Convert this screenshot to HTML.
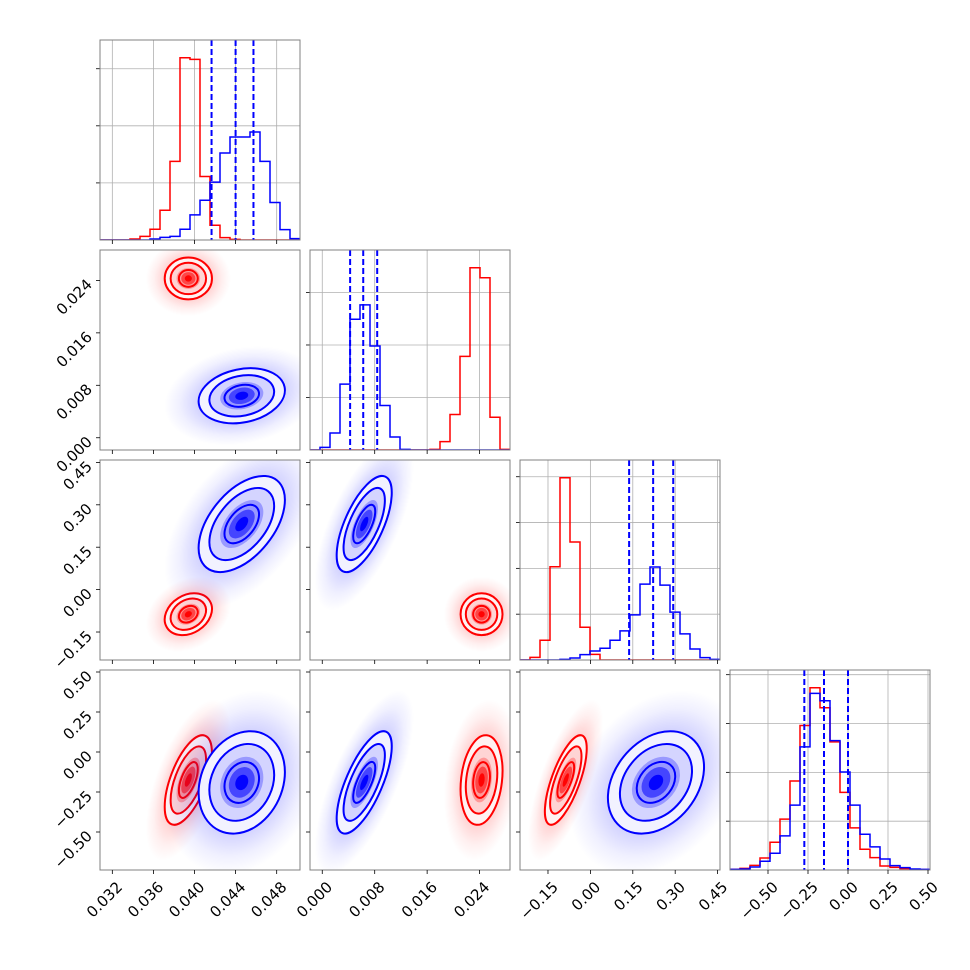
<!DOCTYPE html>
<html><head><meta charset="utf-8"><style>
html,body{margin:0;padding:0;background:#fff}
svg{display:block;font-family:"DejaVu Sans","Liberation Sans",sans-serif}
</style></head><body>
<svg id="chart" width="970" height="970" viewBox="0 0 970 970" xmlns="http://www.w3.org/2000/svg"></svg>
<script>
// ---- data ----
const paramRanges = [[0.0308,0.05027],[-0.00187,0.02864],[-0.249,0.4585],[-0.7375,0.5125]];
const tickVals0 = [0.032,0.036,0.040,0.044,0.048];
const tickVals1 = [0.000,0.008,0.016,0.024];
const tickVals2 = [-0.15,0.00,0.15,0.30,0.45];
const tickVals3 = [-0.50,-0.25,0.00,0.25,0.50];
const tickLabels0 = ["0.032","0.036","0.040","0.044","0.048"];
const tickLabels1 = ["0.000","0.008","0.016","0.024"];
const tickLabels2 = ["\u22120.15","0.00","0.15","0.30","0.45"];
const tickLabels3 = ["\u22120.50","\u22120.25","0.00","0.25","0.50"];
// histogram counts (20 bins each)
const histRed0  = [0,0,0,3,11,32,89,235,545,540,190,44,7,2,0,0,0,0,0,0];
const histBlue0 = [0,0,0,0,0,3,8,11,32,75,119,173,260,308,308,323,235,112,31,4];
const histRed1  = [0,0,0,0,0,0,0,0,0,0,0,0,2,25,106,280,545,515,98,2];
const histBlue1 = [0,8,51,197,391,434,311,133,39,2,0,0,0,0,0,0,0,0,0,0];
const histRed2  = [0,8,59,279,545,353,98,17,0,0,0,0,0,0,0,0,0,0,0,0];
const histBlue2 = [0,0,0,0,2,6,16,27,35,59,87,135,227,278,224,143,78,33,7,2];
const histRed3  = [2,5,14,36,83,152,266,432,545,485,383,232,126,62,37,12,8,4,2,1];
const histBlue3 = [2,3,9,26,50,102,194,368,528,506,387,293,194,107,69,33,13,7,3,2];
const histMax = [598,598,598,598];
const histTickStep = [170.7,157,137,146];
const quantiles0 = [0.04166,0.04400,0.04574];
const quantiles1 = [0.00425,0.00625,0.00838];
const quantiles2 = [0.137,0.222,0.293];
const quantiles3 = [-0.273,-0.150,0.000];
// 2D gaussian summaries
const redMean  = [0.0394,0.0243,-0.087,-0.175];
const redSd    = [0.00115,0.0016,0.037,0.14];
const blueMean = [0.0446,0.0064,0.232,-0.19];
const blueSd   = [0.0021,0.0021,0.085,0.16];
// correlation rows: [r10, r20, r21, r30, r31, r32]
const redRho  = [0.0,0.25,0.0,0.6,0.2,0.7];
const blueRho = [0.2,0.5,0.65,0.2,0.7,0.3];

const tickVals=[tickVals0,tickVals1,tickVals2,tickVals3];
const tickLabels=[tickLabels0,tickLabels1,tickLabels2,tickLabels3];
const histRed=[histRed0,histRed1,histRed2,histRed3];
const histBlue=[histBlue0,histBlue1,histBlue2,histBlue3];
const quant=[quantiles0,quantiles1,quantiles2,quantiles3];

const NS="http://www.w3.org/2000/svg";
const svg=document.getElementById('chart');
const L0=100,T0=40,S=200,G=10;
function mk(tag,attrs,parent){const e=document.createElementNS(NS,tag);for(const k in attrs)e.setAttribute(k,attrs[k]);(parent||svg).appendChild(e);return e;}
function px(p,v,col){const r=paramRanges[p];return L0+col*(S+G)+(v-r[0])/(r[1]-r[0])*S;}
function py(p,v,row){const r=paramRanges[p];return T0+row*(S+G)+S-(v-r[0])/(r[1]-r[0])*S;}
function kpx(p){const r=paramRanges[p];return S/(r[1]-r[0]);}

const defs=mk('defs',{});
['red','blue'].forEach(c=>{
  const g=mk('radialGradient',{id:'cloud-'+c},defs);
  const col=c==='red'?'#ff0000':'#0000ff';
  mk('stop',{offset:'0%','stop-color':col,'stop-opacity':0.4},g);
  mk('stop',{offset:'50%','stop-color':col,'stop-opacity':0.2},g);
  mk('stop',{offset:'80%','stop-color':col,'stop-opacity':0.06},g);
  mk('stop',{offset:'100%','stop-color':col,'stop-opacity':0},g);
});

function rhoIdx(i,j){const m={"1,0":0,"2,0":1,"2,1":2,"3,0":3,"3,1":4,"3,2":5};return m[i+","+j];}

for(let i=0;i<4;i++){
  for(let j=0;j<=i;j++){
    const x0=L0+j*(S+G), y0=T0+i*(S+G);
    const panel=mk('g',{});
    
    
    const cid='clip'+i+'_'+j;
    const cp=mk('clipPath',{id:cid},defs);mk('rect',{x:x0,y:y0,width:S,height:S},cp);
    const inner=mk('g',{'clip-path':'url(#'+cid+')'},panel);
    if(i===j){
      const p=i;
      tickVals[p].forEach(v=>{const x=px(p,v,j);const l=mk('line',{x1:x,x2:x,y1:y0,y2:y0+S,stroke:'#b0b0b0','stroke-width':0.8},inner);});
      for(let t=histTickStep[p];t<histMax[p];t+=histTickStep[p]){const y=y0+S-t/histMax[p]*S;const l=mk('line',{x1:x0,x2:x0+S,y1:y,y2:y,stroke:'#b0b0b0','stroke-width':0.8},inner);
        mk('line',{x1:x0-4,x2:x0,y1:y,y2:y,stroke:'#000','stroke-width':0.8},panel);}
      [['red',histRed[p]],['blue',histBlue[p]]].forEach(([c,h])=>{
        const r=paramRanges[p];const bw=(r[1]-r[0])/h.length;let d='';
        h.forEach((cnt,k)=>{const xa=px(p,r[0]+k*bw,j),xb=px(p,r[0]+(k+1)*bw,j);const y=y0+S-cnt/histMax[p]*S;d+=(k===0?'M'+xa+','+(y0+S)+' L':' L')+xa+','+y+' L'+xb+','+y;});
        d+=' L'+px(p,r[1],j)+','+(y0+S);
        const e=mk('path',{d:d,fill:'none',stroke:c==='red'?'#ff0000':'#0000ff','stroke-width':1.5},inner);
        
        
      });
      quant[p].forEach(q=>{const x=px(p,q,j);const e=mk('line',{x1:x,x2:x,y1:y0,y2:y0+S,stroke:'#0000ff','stroke-width':2,'stroke-dasharray':'6,3'},inner);
        
        });
    } else {
      const pxp=j, pyp=i, ri=rhoIdx(i,j);
      [['red',redMean,redSd,redRho,'#ff0000'],['blue',blueMean,blueSd,blueRho,'#0000ff']].forEach(([c,M,SD,RH,col])=>{
        const cx=px(pxp,M[pxp],j), cy=py(pyp,M[pyp],i);
        const sx=SD[pxp]*kpx(pxp), sy=SD[pyp]*kpx(pyp), rho=RH[ri];
        const a=sx*sx,cc=sy*sy,b=-rho*sx*sy;
        const m=(a+cc)/2, dd=Math.sqrt(((a-cc)/2)**2+b*b);
        const l1=Math.sqrt(m+dd), l2=Math.sqrt(Math.max(m-dd,0.01));
        const ang=0.5*Math.atan2(2*b,a-cc)*180/Math.PI;
        const g=mk('g',{transform:'translate('+cx+','+cy+') rotate('+ang+')'},inner);
        
        
        mk('ellipse',{cx:0,cy:0,rx:l1*3.6,ry:l2*3.6,fill:'url(#cloud-'+c+')'},g);
        mk('ellipse',{cx:0,cy:0,rx:l1*2,ry:l2*2,fill:'#fff'},g);
        [[2,0.05],[1.5,0.12],[1,0.28],[0.6,0.55],[0.3,0.95]].forEach(([r,o])=>mk('ellipse',{cx:0,cy:0,rx:l1*r,ry:l2*r,fill:col,'fill-opacity':o},g));
        [2,1.5,0.8].forEach(r=>{const e=mk('ellipse',{cx:0,cy:0,rx:l1*r,ry:l2*r,fill:'none',stroke:col,'stroke-width':2},g);
          
          });
      });
    }
    const fr=mk('rect',{x:x0,y:y0,width:S,height:S,fill:'none',stroke:'#808080','stroke-width':1},panel);
    
    
    tickVals[j].forEach((v,k)=>{const x=px(j,v,j);mk('line',{x1:x,x2:x,y1:y0+S,y2:y0+S+4,stroke:'#000','stroke-width':0.8},panel);
      if(i===3){const t=mk('text',{x:x+3,y:y0+S+10,'text-anchor':'end','font-size':15,transform:'rotate(-45 '+(x+3)+' '+(y0+S+10)+')',dy:'0.75em'},panel);t.textContent=tickLabels[j][k];
        
        }});
    if(i!==j){tickVals[i].forEach((v,k)=>{const y=py(i,v,i);if(y<y0-1||y>y0+S+1)return;mk('line',{x1:x0-4,x2:x0,y1:y,y2:y,stroke:'#000','stroke-width':0.8},panel);
      if(j===0){const t=mk('text',{x:x0-7,y:y+5,'text-anchor':'end','font-size':15,transform:'rotate(-45 '+(x0-7)+' '+(y+5)+')'},panel);t.textContent=tickLabels[i][k];
        
        }});}
  }
}
</script>
</body></html>
